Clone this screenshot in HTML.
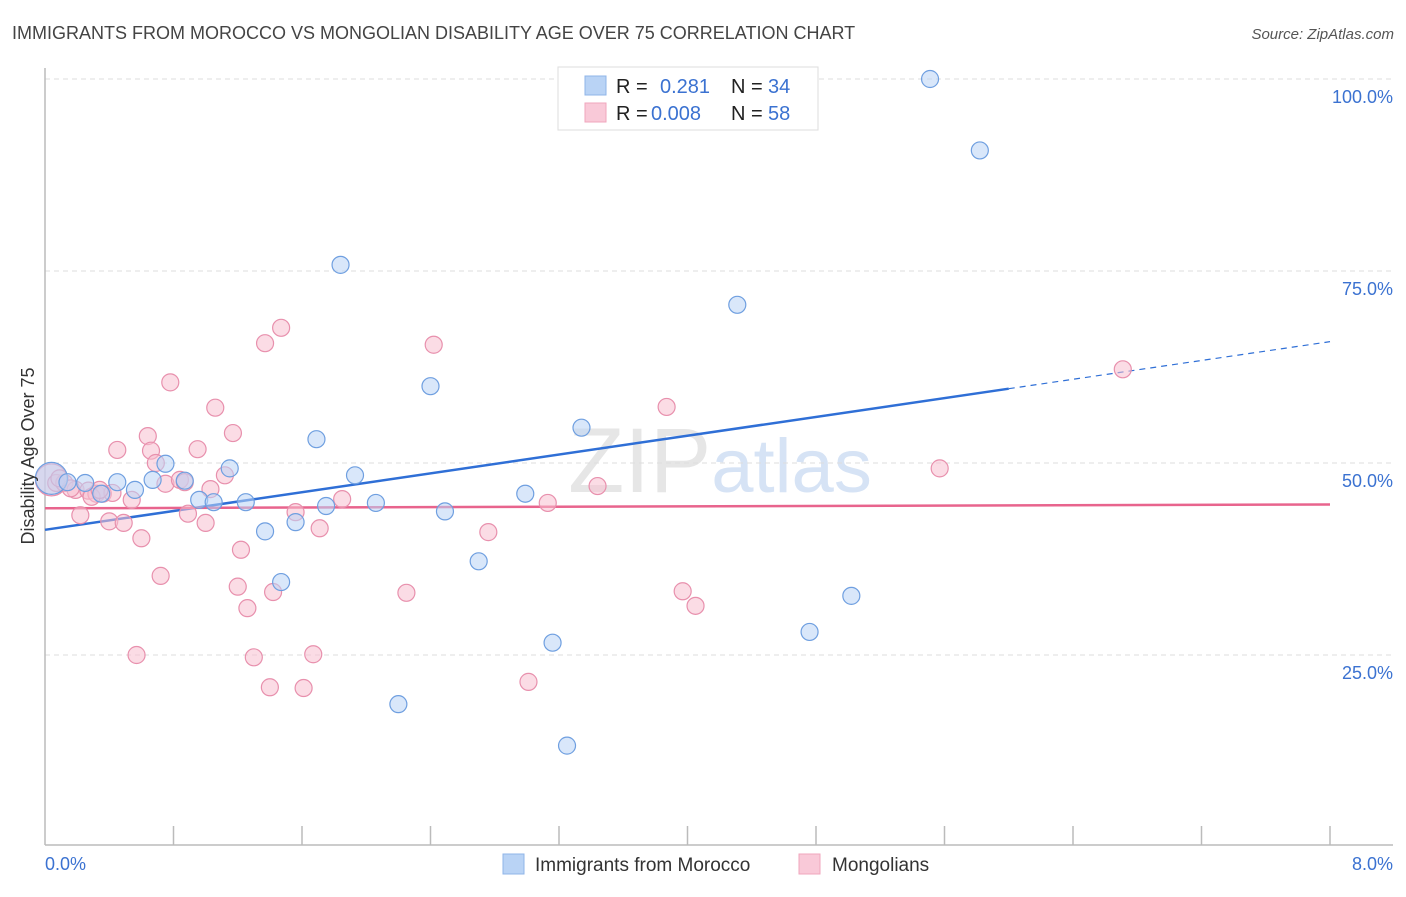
<!DOCTYPE html>
<html><head><meta charset="utf-8"><style>
body{margin:0;background:#fff;font-family:"Liberation Sans",sans-serif;}
svg text{font-family:"Liberation Sans",sans-serif;}
</style></head><body>
<svg id="chart" width="1406" height="892" xmlns="http://www.w3.org/2000/svg">
<text x="12" y="39" font-size="18" fill="#444">IMMIGRANTS FROM MOROCCO VS MONGOLIAN DISABILITY AGE OVER 75 CORRELATION CHART</text>
<text x="1394" y="39" font-size="15" fill="#555" font-style="italic" text-anchor="end">Source: ZipAtlas.com</text>
<text x="720" y="492" font-size="92" fill="#e6e6e6" text-anchor="middle" font-family="Liberation Serif">ZIP<tspan fill="#d6e3f5" font-family="Liberation Sans" font-size="76">atlas</tspan></text>
<g id="grid"></g>
<g id="axes"></g>
<g id="trend"></g>
<g id="points"></g>
<text transform="translate(34,456) rotate(-90)" font-size="18" fill="#333" text-anchor="middle">Disability Age Over 75</text>
<g>
<rect x="558" y="67" width="260" height="63" fill="#fff" stroke="#ddd"/>
<rect x="585" y="76" width="21" height="19" fill="#b9d3f5" stroke="#8fb4e8"/>
<rect x="585" y="103" width="21" height="19" fill="#f9c9d8" stroke="#f0a6bd"/>
<text x="616" y="93" font-size="20" fill="#222">R =</text>
<text x="660" y="93" font-size="20" fill="#3b72d1">0.281</text>
<text x="731" y="93" font-size="20" fill="#222">N =</text>
<text x="768" y="93" font-size="20" fill="#3b72d1">34</text>
<text x="616" y="120" font-size="20" fill="#222">R =</text>
<text x="651" y="120" font-size="20" fill="#3b72d1">0.008</text>
<text x="731" y="120" font-size="20" fill="#222">N =</text>
<text x="768" y="120" font-size="20" fill="#3b72d1">58</text>
</g>
<g>
<rect x="503" y="854" width="21" height="20" fill="#b9d3f5" stroke="#8fb4e8"/>
<text x="535" y="871" font-size="19" fill="#333">Immigrants from Morocco</text>
</g>
<g>
<rect x="799" y="854" width="21" height="20" fill="#f9c9d8" stroke="#f0a6bd"/>
<text x="832" y="871" font-size="19" fill="#333">Mongolians</text>
</g>
</svg>
<script>
const yTicks=[25,50,75,100];
const yTickLabels=["25.0%","50.0%","75.0%","100.0%"];
const xTickLabels=["0.0%","8.0%"];
const blueX=[0.04,0.14,0.25,0.35,0.45,0.56,0.67,0.75,0.87,0.96,1.05,1.15,1.25,1.37,1.47,1.56,1.69,1.75,1.84,1.93,2.06,2.20,2.40,2.49,2.70,2.99,3.16,3.25,3.34,4.31,4.76,5.02,5.51,5.82];
const blueY=[48.0,47.5,47.4,46.0,47.5,46.5,47.8,49.9,47.7,45.2,44.9,49.3,44.9,41.1,34.5,42.3,53.1,44.4,75.8,48.4,44.8,18.6,60.0,43.7,37.2,46.0,26.6,13.2,54.6,70.6,28.0,32.7,100.0,90.7];
const pinkX=[0.04,0.07,0.12,0.19,0.22,0.27,0.32,0.36,0.40,0.42,0.45,0.49,0.54,0.57,0.60,0.64,0.66,0.69,0.72,0.75,0.78,0.84,0.87,0.89,0.95,1.00,1.03,1.06,1.12,1.17,1.22,1.20,1.26,1.30,1.37,1.40,1.42,1.47,1.56,1.61,1.67,1.71,1.85,2.25,2.42,2.76,3.01,3.13,3.44,3.87,3.97,4.05,5.57,6.71,0.29,0.16,0.09,0.34];
const pinkY=[47.8,47.4,47.4,46.5,43.2,46.4,46.0,46.0,42.4,46.1,51.7,42.2,45.2,25.0,40.2,53.5,51.6,50.0,35.3,47.3,60.5,47.8,47.5,43.4,51.8,42.2,46.6,57.2,48.4,53.9,38.7,33.9,31.1,24.7,65.6,20.8,33.2,67.6,43.6,20.7,25.1,41.5,45.3,33.1,65.4,41.0,21.5,44.8,47.0,57.3,33.3,31.4,49.3,62.2,45.6,46.7,48.0,46.5];
const blueTrend=[41.3,65.8];
const pinkTrend=[44.1,44.6];
const NS="http://www.w3.org/2000/svg";
const X0=45,X1=1330,XMAX=8,Y0=847,YPER=192/25;
const sx=v=>X0+(X1-X0)*v/XMAX;
const sy=v=>Y0-v*YPER;
function mk(tag,attrs,parent){const e=document.createElementNS(NS,tag);for(const k in attrs)e.setAttribute(k,attrs[k]);parent.appendChild(e);return e;}
const grid=document.getElementById('grid'),axes=document.getElementById('axes'),trend=document.getElementById('trend'),pts=document.getElementById('points');
yTicks.forEach((t,i)=>{
 const l=mk('line',{x1:X0,x2:1393,y1:sy(t),y2:sy(t),stroke:'#ddd','stroke-dasharray':'5,4'},grid);
 
 
 const tx=mk('text',{x:1393,y:sy(t)+24,'font-size':18,fill:'#3b72d1','text-anchor':'end'},grid);
 tx.textContent=yTickLabels[i];
 
 
});
const ya=mk('line',{x1:X0,x2:X0,y1:68,y2:845,stroke:'#bbb','stroke-width':1.5},axes);


const xa=mk('line',{x1:X0,x2:1393,y1:845,y2:845,stroke:'#bbb','stroke-width':1.5},axes);


for(let i=1;i<=10;i++){
 const tk=mk('line',{x1:sx(i*0.8),x2:sx(i*0.8),y1:826,y2:845,stroke:'#bbb','stroke-width':1.5},axes);
 
 
}
const xl0=mk('text',{x:45,y:870,'font-size':18,fill:'#3b72d1'},axes);xl0.textContent=xTickLabels[0];


const xl1=mk('text',{x:1393,y:870,'font-size':18,fill:'#3b72d1','text-anchor':'end'},axes);xl1.textContent=xTickLabels[1];


function drawPts(xs,ys,fill,stroke,name){
 xs.forEach((x,i)=>{
  const c=mk('circle',{cx:sx(x),cy:sy(ys[i]),r:i===0?16:8.5,fill:fill,'fill-opacity':0.55,stroke:stroke,'stroke-width':1.2},pts);
  
  
 });
}
drawPts(pinkX,pinkY,'#f7bfd0','#e890ad','point-mongolians');
drawPts(blueX,blueY,'#b9d3f5','#6f9fe0','point-morocco');
const bSlope=(blueTrend[1]-blueTrend[0])/8;
const bl=mk('line',{x1:sx(0),y1:sy(blueTrend[0]),x2:sx(6),y2:sy(blueTrend[0]+bSlope*6),stroke:'#2f6fd6','stroke-width':2.5},trend);


const bd=mk('line',{x1:sx(6),y1:sy(blueTrend[0]+bSlope*6),x2:sx(8),y2:sy(blueTrend[1]),stroke:'#2f6fd6','stroke-width':1.2,'stroke-dasharray':'6,5'},trend);


const pl=mk('line',{x1:sx(0),y1:sy(pinkTrend[0]),x2:sx(8),y2:sy(pinkTrend[1]),stroke:'#e8648d','stroke-width':2.5},trend);


</script>
</body></html>
